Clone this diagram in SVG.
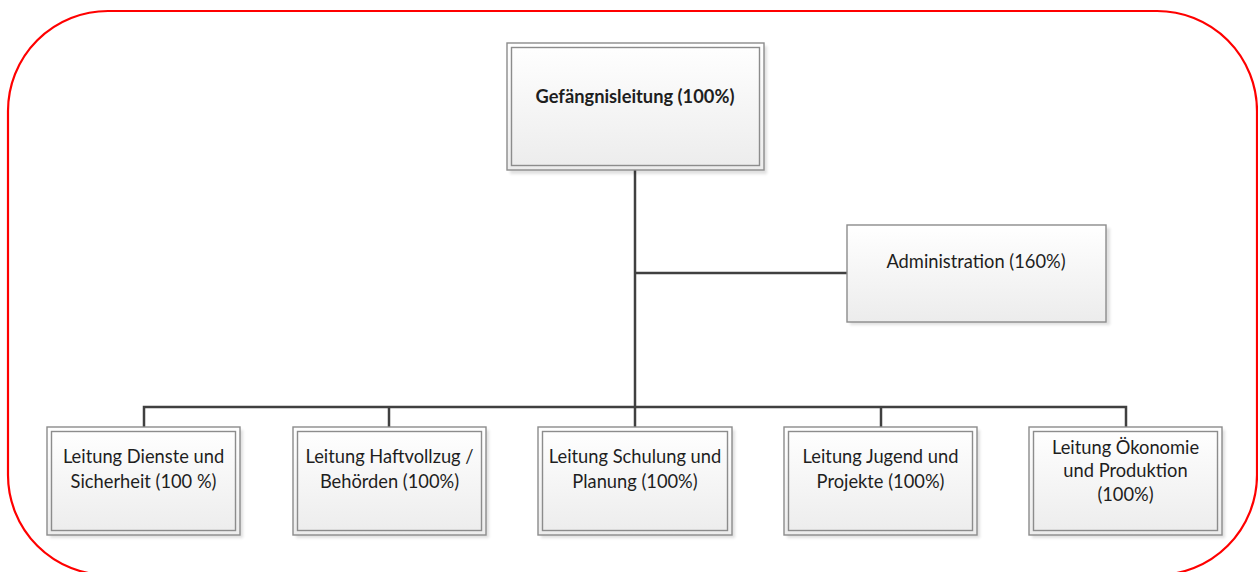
<svg xmlns="http://www.w3.org/2000/svg" width="1258" height="572" viewBox="0 0 1258 572">
  <style>
    .frame { fill: none; stroke: #ff0000; stroke-width: 2.2; }
    .box { fill: url(#boxFill); stroke: #8c8c8c; stroke-width: 1.4; }
    .inner { fill: none; stroke: #8c8c8c; stroke-width: 1.4; }
    .shadow { fill: #000; opacity: 0.12; filter: url(#soft); }
    .wire { fill: none; stroke: #404040; stroke-width: 2.5; }
    .label { font-family: Lato, "Liberation Sans", sans-serif; font-size: 18.3px; fill: #1e1e1e; text-anchor: middle; }
    .bold { font-weight: bold; }
  </style>
  <defs>
    <linearGradient id="boxFill" x1="0" y1="0" x2="0" y2="1">
      <stop offset="0" stop-color="#ffffff"/>
      <stop offset="1" stop-color="#ececec"/>
    </linearGradient>
    <filter id="soft" x="-10%" y="-10%" width="120%" height="120%">
      <feGaussianBlur stdDeviation="1.5"/>
    </filter>
  </defs>

  <rect width="1258" height="572" fill="#ffffff"/>

  <!-- outer frame -->
  <rect class="frame" x="8" y="11" width="1249" height="564" rx="100" ry="100"/>

  <!-- connectors -->
  <g id="connectors">
    <line class="wire" x1="635" y1="170" x2="635" y2="407"/>
    <line class="wire" x1="635" y1="273" x2="848" y2="273"/>
    <polyline class="wire" points="144,428 144,407 1126,407 1126,428"/>
    <line class="wire" x1="389" y1="407" x2="389" y2="428"/>
    <line class="wire" x1="635" y1="407" x2="635" y2="428"/>
    <line class="wire" x1="881" y1="407" x2="881" y2="428"/>
  </g>

  <!-- head of institution -->
  <g id="node-head">
    <rect class="shadow" x="510" y="46" width="257" height="128"/>
    <rect class="box" x="507" y="43" width="257" height="127"/>
    <rect class="inner" x="511.5" y="47.5" width="248" height="118"/>
    <text class="label bold" x="635" y="103">Gefängnisleitung (100%)</text>
  </g>

  <!-- administration -->
  <g id="node-admin">
    <rect class="shadow" x="850" y="228" width="260" height="97"/>
    <rect class="box" x="847" y="225" width="259" height="97"/>
    <text class="label" x="976" y="268">Administration (160%)</text>
  </g>

  <!-- department heads -->
  <g id="node-dienste">
    <rect class="shadow" x="50" y="430" width="193" height="108"/>
    <rect class="box" x="47" y="427" width="193" height="108"/>
    <rect class="inner" x="51.5" y="431.5" width="184" height="99"/>
    <text class="label" x="143.5" y="463">Leitung Dienste und</text>
    <text class="label" x="143.5" y="488">Sicherheit (100 %)</text>
  </g>

  <g id="node-haftvollzug">
    <rect class="shadow" x="296" y="430" width="193" height="108"/>
    <rect class="box" x="293" y="427" width="193" height="108"/>
    <rect class="inner" x="297.5" y="431.5" width="184" height="99"/>
    <text class="label" x="389.5" y="463">Leitung Haftvollzug /</text>
    <text class="label" x="389.5" y="488">Behörden (100%)</text>
  </g>

  <g id="node-schulung">
    <rect class="shadow" x="541" y="430" width="194" height="108"/>
    <rect class="box" x="538" y="427" width="194" height="108"/>
    <rect class="inner" x="542.5" y="431.5" width="185" height="99"/>
    <text class="label" x="635" y="463">Leitung Schulung und</text>
    <text class="label" x="635" y="488">Planung (100%)</text>
  </g>

  <g id="node-jugend">
    <rect class="shadow" x="787" y="430" width="193" height="108"/>
    <rect class="box" x="784" y="427" width="193" height="108"/>
    <rect class="inner" x="788.5" y="431.5" width="184" height="99"/>
    <text class="label" x="880.5" y="463">Leitung Jugend und</text>
    <text class="label" x="880.5" y="488">Projekte (100%)</text>
  </g>

  <g id="node-oekonomie">
    <rect class="shadow" x="1032" y="430" width="193" height="108"/>
    <rect class="box" x="1029" y="427" width="193" height="108"/>
    <rect class="inner" x="1033.5" y="431.5" width="184" height="99"/>
    <text class="label" x="1125.5" y="454">Leitung Ökonomie</text>
    <text class="label" x="1125.5" y="477">und Produktion</text>
    <text class="label" x="1125.5" y="501">(100%)</text>
  </g>
</svg>
